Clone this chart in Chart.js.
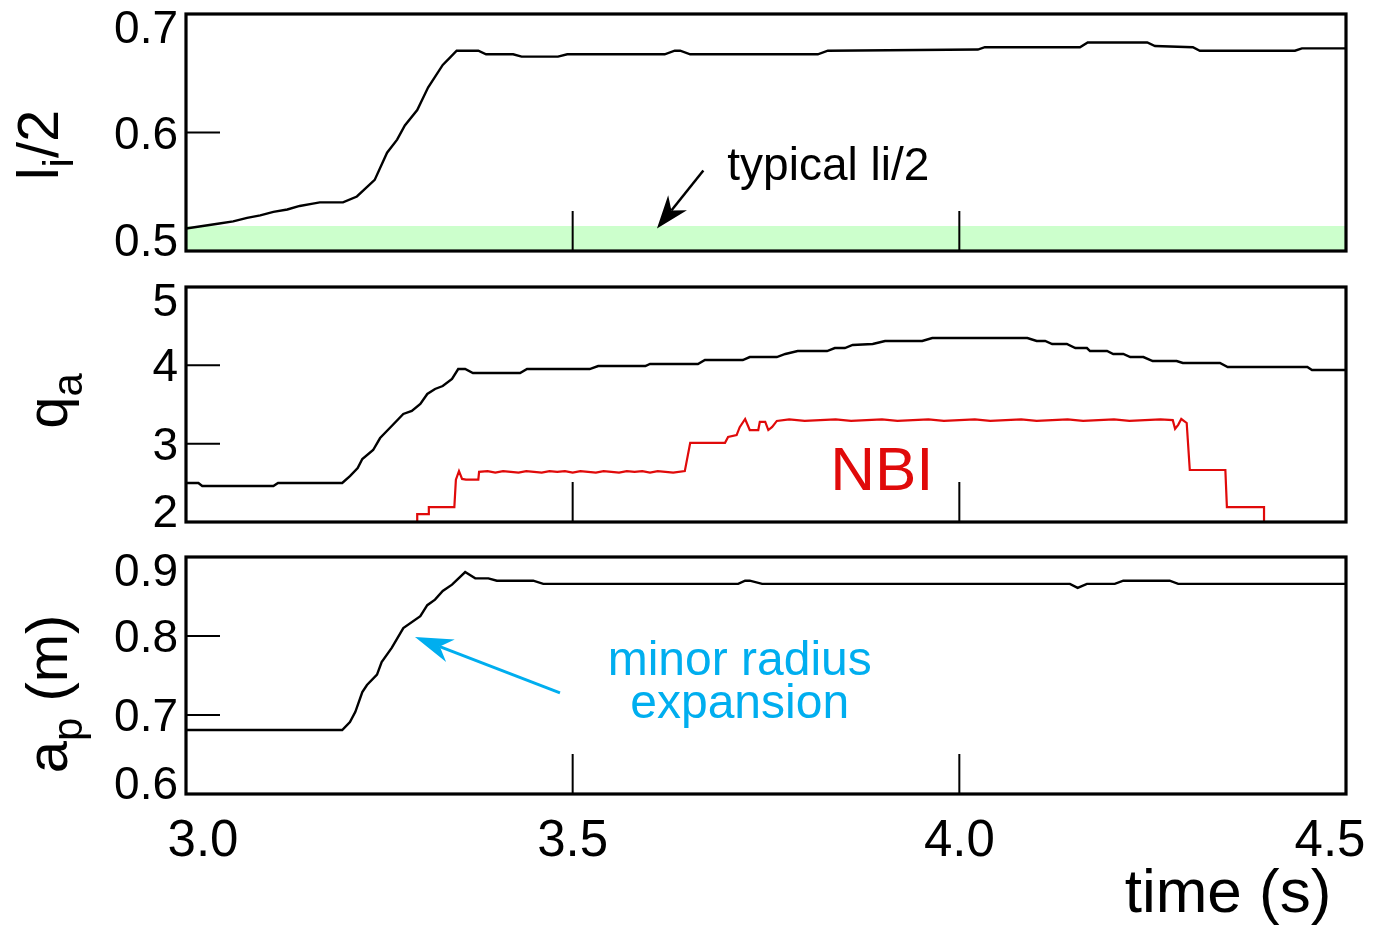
<!DOCTYPE html>
<html>
<head>
<meta charset="utf-8">
<script src="https://cdn.jsdelivr.net/npm/chart.js@4.4.1/dist/chart.umd.min.js"></script>
<style>
  html, body { margin: 0; padding: 0; background: #fff; }
  #wrap { position: relative; width: 1387px; height: 928px; }
  #wrap canvas { position: absolute; left: 0; }
</style>
</head>
<body>
<div id="wrap">
  <canvas id="c-li" width="1387" height="270" style="top:0px"></canvas>
  <canvas id="c-qa" width="1387" height="270" style="top:270px"></canvas>
  <canvas id="c-ap" width="1387" height="388" style="top:540px"></canvas>
</div>
<script>
// --- data (time in s) ---
const timeTicks = [3.0, 3.5, 4.0, 4.5];
const timeTickLabels = ['3.0', '3.5', '4.0', '4.5'];

const liTicks = [0.5, 0.6, 0.7];
const liTickLabels = ['0.5', '0.6', '0.7'];
const qaTicks = [2, 3, 4, 5];
const qaTickLabels = ['2', '3', '4', '5'];
const apTicks = [0.6, 0.7, 0.8, 0.9];
const apTickLabels = ['0.6', '0.7', '0.8', '0.9'];

// typical li/2 band (0.5 .. top)
const typicalLiTop = 0.521;

const liTime = [3.000, 3.041, 3.061, 3.079, 3.096, 3.113, 3.131, 3.147, 3.164, 3.173, 3.203, 3.221, 3.244, 3.260, 3.273, 3.283, 3.299, 3.313, 3.332, 3.341, 3.350, 3.378, 3.388, 3.423, 3.434, 3.481, 3.493, 3.619, 3.632, 3.639, 3.652, 3.817, 3.830, 4.024, 4.033, 4.156, 4.166, 4.243, 4.253, 4.302, 4.311, 4.434, 4.443, 4.500];
const liValue = [0.519, 0.523, 0.525, 0.528, 0.530, 0.533, 0.535, 0.538, 0.540, 0.541, 0.541, 0.546, 0.560, 0.583, 0.594, 0.606, 0.619, 0.638, 0.657, 0.663, 0.669, 0.669, 0.666, 0.666, 0.664, 0.664, 0.666, 0.666, 0.669, 0.669, 0.666, 0.666, 0.669, 0.670, 0.672, 0.672, 0.676, 0.676, 0.673, 0.672, 0.669, 0.669, 0.671, 0.671];

const qaTime = [3.000, 3.016, 3.021, 3.113, 3.119, 3.202, 3.212, 3.222, 3.228, 3.242, 3.251, 3.261, 3.281, 3.292, 3.303, 3.312, 3.322, 3.332, 3.344, 3.352, 3.361, 3.371, 3.432, 3.441, 3.522, 3.533, 3.594, 3.600, 3.662, 3.671, 3.720, 3.729, 3.764, 3.775, 3.791, 3.829, 3.839, 3.852, 3.862, 3.888, 3.904, 3.952, 3.965, 4.088, 4.100, 4.111, 4.120, 4.139, 4.150, 4.165, 4.169, 4.191, 4.199, 4.212, 4.221, 4.238, 4.250, 4.281, 4.289, 4.337, 4.347, 4.450, 4.456, 4.500];
const qaValue = [2.498, 2.498, 2.460, 2.460, 2.498, 2.498, 2.587, 2.689, 2.804, 2.919, 3.072, 3.174, 3.379, 3.417, 3.506, 3.634, 3.698, 3.736, 3.826, 3.953, 3.953, 3.902, 3.902, 3.953, 3.953, 3.991, 3.991, 4.017, 4.017, 4.068, 4.068, 4.106, 4.106, 4.145, 4.183, 4.183, 4.221, 4.221, 4.260, 4.272, 4.311, 4.311, 4.349, 4.349, 4.311, 4.311, 4.272, 4.272, 4.221, 4.221, 4.183, 4.183, 4.145, 4.145, 4.106, 4.106, 4.055, 4.055, 4.030, 4.030, 3.979, 3.979, 3.940, 3.940];

// NBI power trace, drawn in q_a units
const nbiTime = [3.299, 3.299, 3.313, 3.314, 3.347, 3.349, 3.353, 3.357, 3.362, 3.378, 3.379, 3.39, 3.40, 3.41, 3.42, 3.43, 3.44, 3.45, 3.46, 3.47, 3.48, 3.49, 3.50, 3.51, 3.52, 3.53, 3.54, 3.55, 3.56, 3.57, 3.58, 3.59, 3.60, 3.61, 3.62, 3.63, 3.645, 3.652, 3.697, 3.701, 3.712, 3.716, 3.723, 3.729, 3.740, 3.742, 3.749, 3.753, 3.758, 3.764, 3.78, 3.80, 3.82, 3.84, 3.86, 3.88, 3.90, 3.92, 3.94, 3.96, 3.98, 4.00, 4.02, 4.04, 4.06, 4.08, 4.10, 4.12, 4.14, 4.16, 4.18, 4.20, 4.22, 4.24, 4.26, 4.276, 4.279, 4.283, 4.287, 4.294, 4.298, 4.344, 4.346, 4.394, 4.394];
const nbiValue = [2.00, 2.10, 2.10, 2.19, 2.19, 2.54, 2.65, 2.55, 2.54, 2.54, 2.64, 2.65, 2.63, 2.65, 2.64, 2.63, 2.65, 2.64, 2.63, 2.65, 2.64, 2.65, 2.63, 2.65, 2.64, 2.63, 2.65, 2.64, 2.63, 2.65, 2.64, 2.65, 2.63, 2.65, 2.64, 2.63, 2.65, 3.01, 3.01, 3.085, 3.11, 3.21, 3.315, 3.174, 3.174, 3.277, 3.277, 3.174, 3.213, 3.29, 3.31, 3.29, 3.30, 3.31, 3.29, 3.30, 3.31, 3.29, 3.30, 3.31, 3.29, 3.30, 3.31, 3.29, 3.30, 3.31, 3.29, 3.30, 3.31, 3.29, 3.30, 3.31, 3.29, 3.30, 3.31, 3.30, 3.19, 3.24, 3.315, 3.264, 2.664, 2.664, 2.19, 2.19, 2.00];

const apTime = [3.000, 3.202, 3.212, 3.219, 3.228, 3.234, 3.247, 3.253, 3.266, 3.281, 3.303, 3.312, 3.322, 3.332, 3.344, 3.361, 3.374, 3.391, 3.402, 3.449, 3.462, 3.714, 3.723, 3.729, 3.745, 4.143, 4.153, 4.165, 4.201, 4.212, 4.272, 4.283, 4.500];
const apValue = [0.681, 0.681, 0.691, 0.704, 0.729, 0.738, 0.751, 0.767, 0.785, 0.810, 0.825, 0.839, 0.846, 0.857, 0.865, 0.881, 0.873, 0.873, 0.870, 0.870, 0.866, 0.866, 0.870, 0.870, 0.866, 0.866, 0.861, 0.866, 0.866, 0.870, 0.870, 0.866, 0.866];

const FONT = '"Liberation Sans", Arial, Helvetica, sans-serif';
const RED = '#e00a0a';
const CYAN = '#00aeef';

function toPoints(times, values) {
    return times.map((t, i) => ({ x: t, y: values[i] }));
}

function drawArrow(ctx, x1, y1, x2, y2, color, width, headLen, headHalf) {
    const ang = Math.atan2(y2 - y1, x2 - x1);
    const c = Math.cos(ang), s = Math.sin(ang);
    const nx = x2 - c * headLen * 0.7, ny = y2 - s * headLen * 0.7;
    const bx = x2 - c * headLen, by = y2 - s * headLen;
    ctx.save();
    ctx.strokeStyle = color;
    ctx.fillStyle = color;
    ctx.lineWidth = width;
    ctx.beginPath();
    ctx.moveTo(x1, y1);
    ctx.lineTo(nx, ny);
    ctx.stroke();
    ctx.beginPath();
    ctx.moveTo(x2, y2);
    ctx.lineTo(bx - s * headHalf, by + c * headHalf);
    ctx.lineTo(nx, ny);
    ctx.lineTo(bx + s * headHalf, by - c * headHalf);
    ctx.closePath();
    ctx.fill();
    ctx.restore();
}

// rotated axis title, parts = [{text, sub}]
function drawYTitle(ctx, parts, baseX, midY) {
    const fontOf = p => (p.sub ? '42px ' : '58px ') + FONT;
    ctx.save();
    ctx.translate(baseX, midY);
    ctx.rotate(-Math.PI / 2);
    ctx.fillStyle = '#000';
    ctx.textAlign = 'left';
    ctx.textBaseline = 'alphabetic';
    let total = 0;
    parts.forEach(p => { ctx.font = fontOf(p); total += ctx.measureText(p.text).width; });
    let x = -total / 2;
    parts.forEach(p => {
        ctx.font = fontOf(p);
        ctx.fillText(p.text, x, p.sub ? 15 : 0);
        x += ctx.measureText(p.text).width;
    });
    ctx.restore();
}

// frame, inward ticks, tick labels and axis title of one panel
function panelPlugin(cfg) {
    return {
        id: 'panel',
        afterDatasetsDraw(chart) {
            const ctx = chart.ctx;
            const a = chart.chartArea;
            const xs = chart.scales.x, ys = chart.scales.y;
            ctx.save();
            ctx.strokeStyle = '#000';
            ctx.lineWidth = 2;
            ctx.beginPath();
            cfg.yTicks.forEach(v => {
                if (v <= ys.min || v >= ys.max) return;
                const py = ys.getPixelForValue(v);
                ctx.moveTo(a.left, py);
                ctx.lineTo(a.left + 34, py);
            });
            timeTicks.forEach(v => {
                if (v <= xs.min || v >= xs.max) return;
                const px = xs.getPixelForValue(v);
                ctx.moveTo(px, a.bottom);
                ctx.lineTo(px, a.bottom - 40);
            });
            ctx.stroke();
            ctx.lineWidth = 3.2;
            ctx.strokeRect(a.left, a.top, a.right - a.left, a.bottom - a.top);

            ctx.fillStyle = '#000';
            ctx.font = '46px ' + FONT;
            ctx.textAlign = 'right';
            ctx.textBaseline = 'alphabetic';
            cfg.yTicks.forEach((v, i) => {
                let cy = ys.getPixelForValue(v);
                cy = Math.min(Math.max(cy, a.top + 13), a.bottom - 11);
                ctx.fillText(cfg.yLabels[i], a.left - 8, cy + 16);
            });

            if (cfg.xLabels) {
                ctx.font = '51px ' + FONT;
                ctx.textAlign = 'center';
                timeTicks.forEach((v, i) => {
                    let cx = xs.getPixelForValue(v);
                    cx = Math.min(Math.max(cx, a.left + 17), a.right - 16);
                    ctx.fillText(timeTickLabels[i], cx, a.bottom + 62);
                });
                ctx.font = '62px ' + FONT;
                ctx.fillText('time (s)', 1228, a.bottom + 118);
            }
            drawYTitle(ctx, cfg.title, cfg.titleX, cfg.titleY);
            ctx.restore();
        }
    };
}

function makePanel(id, pad, yMin, yMax, datasets, plugins) {
    return new Chart(document.getElementById(id), {
        type: 'line',
        data: { datasets: datasets },
        options: {
            responsive: false,
            animation: false,
            devicePixelRatio: 1,
            events: [],
            layout: { padding: pad },
            elements: { point: { radius: 0 }, line: { tension: 0 } },
            scales: {
                x: { type: 'linear', min: 3.0, max: 4.5, display: false },
                y: { type: 'linear', min: yMin, max: yMax, display: false }
            },
            plugins: { legend: { display: false }, tooltip: { enabled: false } }
        },
        plugins: plugins
    });
}

// --- panel 1: li/2 ---
const liNotes = {
    id: 'liNotes',
    afterDatasetsDraw(chart) {
        const ctx = chart.ctx, xs = chart.scales.x, ys = chart.scales.y;
        ctx.save();
        ctx.fillStyle = '#000';
        ctx.font = '46px ' + FONT;
        ctx.textAlign = 'left';
        ctx.fillText('typical li/2', xs.getPixelForValue(3.700), ys.getPixelForValue(0.560));
        ctx.restore();
        drawArrow(ctx, xs.getPixelForValue(3.669), ys.getPixelForValue(0.568),
            xs.getPixelForValue(3.609), ys.getPixelForValue(0.519), '#000', 2.5, 33, 12);
    }
};

makePanel('c-li', { left: 186, right: 41, top: 14, bottom: 19 }, 0.5, 0.7, [
    {
        data: toPoints(liTime, liValue),
        borderColor: '#000', borderWidth: 2.4, fill: false, order: 1
    },
    {
        data: [{ x: 3.0, y: typicalLiTop }, { x: 4.5, y: typicalLiTop }],
        borderWidth: 0, borderColor: 'rgba(0,0,0,0)', backgroundColor: '#ccffcc',
        fill: 'start', order: 2
    }
], [liNotes, panelPlugin({
    yTicks: liTicks, yLabels: liTickLabels,
    title: [{ text: 'l' }, { text: 'i', sub: true }, { text: '/2' }],
    titleX: 58, titleY: 145
})]);

// --- panel 2: q_a with NBI ---
const qaNotes = {
    id: 'qaNotes',
    afterDatasetsDraw(chart) {
        const ctx = chart.ctx, xs = chart.scales.x, ys = chart.scales.y;
        ctx.save();
        ctx.fillStyle = RED;
        ctx.font = '62px ' + FONT;
        ctx.textAlign = 'left';
        ctx.fillText('NBI', xs.getPixelForValue(3.833), ys.getPixelForValue(2.408));
        ctx.restore();
    }
};

makePanel('c-qa', { left: 186, right: 41, top: 17, bottom: 18 }, 2, 5, [
    {
        data: toPoints(qaTime, qaValue),
        borderColor: '#000', borderWidth: 2.4, fill: false, order: 1
    },
    {
        data: toPoints(nbiTime, nbiValue),
        borderColor: RED, borderWidth: 2.2, fill: false, order: 2
    }
], [qaNotes, panelPlugin({
    yTicks: qaTicks, yLabels: qaTickLabels,
    title: [{ text: 'q' }, { text: 'a', sub: true }],
    titleX: 67, titleY: 131
})]);

// --- panel 3: a_p ---
const apNotes = {
    id: 'apNotes',
    afterDatasetsDraw(chart) {
        const ctx = chart.ctx, xs = chart.scales.x, ys = chart.scales.y;
        ctx.save();
        ctx.fillStyle = CYAN;
        ctx.font = '48px ' + FONT;
        ctx.textAlign = 'center';
        const cx = xs.getPixelForValue(3.716);
        ctx.fillText('minor radius', cx, ys.getPixelForValue(0.7506));
        ctx.fillText('expansion', cx, ys.getPixelForValue(0.6962));
        ctx.restore();
        drawArrow(ctx, xs.getPixelForValue(3.4836), ys.getPixelForValue(0.7279),
            xs.getPixelForValue(3.2961), ys.getPixelForValue(0.7987), CYAN, 3, 38, 12);
    }
};

makePanel('c-ap', { left: 186, right: 41, top: 17, bottom: 134 }, 0.6, 0.9, [
    {
        data: toPoints(apTime, apValue),
        borderColor: '#000', borderWidth: 2.4, fill: false, order: 1
    }
], [apNotes, panelPlugin({
    yTicks: apTicks, yLabels: apTickLabels, xLabels: true,
    title: [{ text: 'a' }, { text: 'p', sub: true }, { text: ' (m)' }],
    titleX: 67, titleY: 154
})]);
</script>
</body>
</html>
